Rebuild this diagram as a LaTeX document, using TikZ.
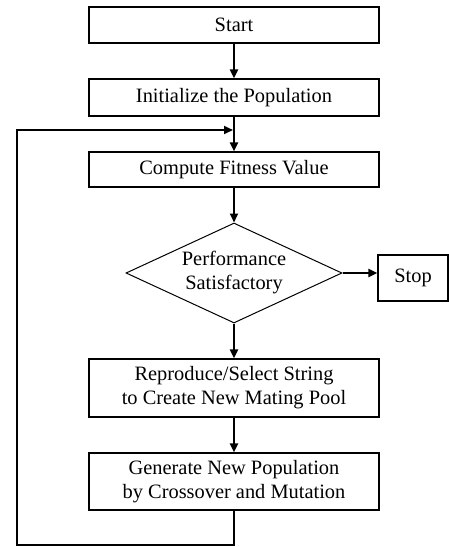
\documentclass[tikz,border=0pt]{standalone}
\usepackage{fontspec}
\setmainfont{Liberation Serif}
\usetikzlibrary{shapes.geometric,arrows.meta}

\begin{document}
\begin{tikzpicture}[x = 1pt, y = -1pt,
		font = \fontsize{20.4}{24}\selectfont,
		stepbox/.style = {rectangle, draw, line width = 1.2pt, minimum width = 290pt, inner sep = 0pt, align = center},
		decision/.style = {diamond, draw, line width = 1pt, aspect = 2.16, minimum width = 216pt, minimum height = 100pt, inner sep = 0pt, align = center},
		flow/.style = {line width = 2pt, -{Triangle[length = 9pt, width = 8pt]}}]
		
		\useasboundingbox (0,0) rectangle (449,547);
		
		\node [stepbox, minimum height = 36pt] (start) at (234,25) {Start};
		\node [stepbox, minimum height = 37pt] (init) at (234,97.5) {Initialize the Population};
		\node [stepbox, minimum height = 35pt] (fitness) at (234,169.5) {Compute Fitness Value};
		\node [decision] (perf) at (234,273) {Performance\\Satisfactory};
		\node [stepbox, minimum width = 70pt, minimum height = 46pt] (stop) at (413,278) {Stop};
		\node [stepbox, minimum height = 58pt] (repro) at (234,388) {Reproduce/Select String\\to Create New Mating Pool};
		\node [stepbox, minimum height = 57pt] (gen) at (234,481.5) {Generate New Population\\by Crossover and Mutation};
		
		\coordinate (loopA) at (234,545);
		\coordinate (loopB) at (17,545);
		\coordinate (loopC) at (17,130);
		\coordinate (loopD) at (233,130);
	
		\draw [flow] (start) -- (init);
		\draw [flow] (init) -- (fitness);
		\draw [flow] (fitness) -- (perf);
		\draw [flow] (perf.east) -- (perf.east -| stop.west);
		\draw [flow] (perf) -- (repro);
		\draw [flow] (repro) -- (gen);
		\draw [flow] (gen.south) -- (loopA) -- (loopB) -- (loopC) -- (loopD);
		
		\end{tikzpicture}
\end{document}
